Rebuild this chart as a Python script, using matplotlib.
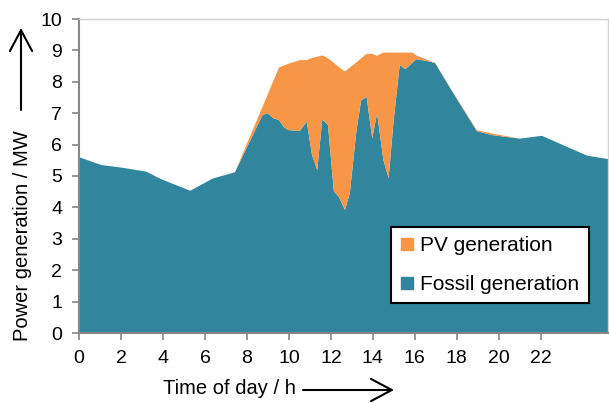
import matplotlib.pyplot as plt
from matplotlib.lines import Line2D

plt.rcParams['font.family'] = ['Liberation Sans', 'DejaVu Sans']

# hours
hours = [0, 1.06, 2.1, 3.2, 3.91, 5.3, 6.37, 7.43, 8.74, 8.98, 9.26, 9.53, 9.77,
         10.0, 10.53, 10.85, 11.1, 11.35, 11.59, 11.86, 12.14, 12.38, 12.67, 12.9,
         13.22, 13.44, 13.7, 13.97, 14.2, 14.5, 14.75, 14.99, 15.28, 15.55, 15.87,
         16.07, 16.74, 16.97, 17.69, 18.95, 19.7, 21.0, 22.05, 24.2, 25.2]
fossil = [5.6, 5.35, 5.26, 5.14, 4.9, 4.53, 4.92, 5.12, 6.94, 7.0, 6.84, 6.78, 6.55,
          6.46, 6.44, 6.73, 5.67, 5.19, 6.8, 6.62, 4.52, 4.33, 3.92, 4.45,
          6.46, 7.41, 7.52, 6.2, 7.0, 5.51, 4.93, 6.78, 8.54, 8.4, 8.6,
          8.72, 8.64, 8.59, 7.79, 6.43, 6.3, 6.19, 6.28, 5.65, 5.54]
total = [5.6, 5.35, 5.26, 5.14, 4.9, 4.53, 4.92, 5.12, 7.2, 7.58, 8.03, 8.46, 8.52,
         8.58, 8.69, 8.69, 8.76, 8.8, 8.84, 8.75, 8.6, 8.47, 8.33, 8.45,
         8.62, 8.75, 8.89, 8.89, 8.83, 8.93, 8.93, 8.93, 8.93, 8.93, 8.93,
         8.84, 8.66, 8.6, 7.8, 6.46, 6.35, 6.19, 6.28, 5.65, 5.54]
pv = [t - f for t, f in zip(total, fossil)]

orange = '#F79646'
teal = '#31859C'

W, H = 609, 403
fig = plt.figure(figsize=(W / 100, H / 100), dpi=100)
ax = fig.add_axes([79 / W, 1 - 333 / H, 529 / W, 314 / H])

ax.stackplot(hours, fossil, pv, colors=[teal, orange], linewidth=0)

ax.set_xlim(0, 25.2)
ax.set_ylim(0, 10)
ax.set_xticks(range(0, 23, 2))
ax.set_yticks(range(0, 11))

for s in ['left', 'bottom']:
    ax.spines[s].set_color('#868686')
    ax.spines[s].set_linewidth(1.5)
for s in ['top', 'right']:
    ax.spines[s].set_color('#D0D0D0')
    ax.spines[s].set_linewidth(1)
ax.tick_params(direction='out', length=5, width=1.2, color='#868686',
               labelsize=14, labelcolor='black', pad=7)

handles = [Line2D([], [], marker='s', color=orange, linestyle='none', markersize=8),
           Line2D([], [], marker='s', color=teal, linestyle='none', markersize=8)]
leg = ax.legend(handles, ['PV generation', 'Fossil generation'],
                loc='lower left', bbox_to_anchor=(0.59, 0.095, 0.374, 0.25),
                mode='expand', fontsize=15, fancybox=False, framealpha=1,
                edgecolor='black', handlelength=0.6, handletextpad=0.35,
                labelspacing=0.95, borderpad=0.45, borderaxespad=0)
leg.get_frame().set_linewidth(1.5)

arrow = dict(arrowstyle='->,head_length=1.5,head_width=0.8', lw=1.5,
             color='black', mutation_scale=10, shrinkA=0, shrinkB=0)

# axis labels with arrows
fig.text(23 / W, 1 - 236 / H, 'Power generation / MW', rotation=90,
         ha='center', va='center', fontsize=14.5)
ax.annotate('', xy=(21 / W, 1 - 28 / H), xytext=(21 / W, 1 - 110 / H),
            xycoords='figure fraction', textcoords='figure fraction', arrowprops=arrow)
fig.text(229 / W, 1 - 389 / H, 'Time of day / h', ha='center', va='center', fontsize=14.5)
ax.annotate('', xy=(394 / W, 1 - 390 / H), xytext=(303 / W, 1 - 390 / H),
            xycoords='figure fraction', textcoords='figure fraction', arrowprops=arrow)

fig.savefig('out.png', dpi=100)
